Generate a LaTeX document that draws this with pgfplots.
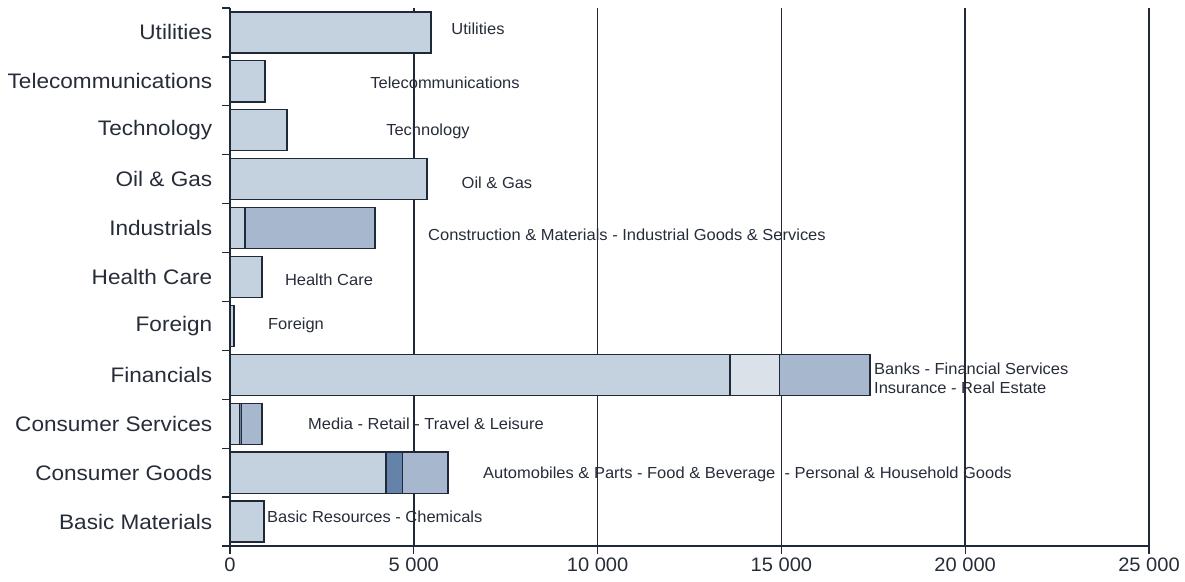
\documentclass[border=0pt]{standalone}
\usepackage{fontspec}
\setmainfont{Liberation Sans}
\usepackage{pgfplots}
\usepackage{pgfplotstable}
\pgfplotsset{compat=1.18}
\definecolor{cLight}{HTML}{C4D1DE}
\definecolor{cDark}{HTML}{6583A8}
\definecolor{cLighter}{HTML}{DAE1E9}
\definecolor{cMed}{HTML}{A7B8CE}
\definecolor{cEdge}{HTML}{1F2937}
\definecolor{cText}{HTML}{262C38}
\pgfplotstableread{
cat s1 s2 s3 s4 s5
0 920 10 0 0 0
1 4240 460 0 1230 0
2 250 60 0 560 0
3 13600 0 1340 2450 20
4 110 0 0 0 0
5 870 0 0 0 0
6 410 0 0 3535 0
7 5360 0 0 0 0
8 1550 0 0 0 0
9 950 0 0 0 0
10 5470 0 0 0 0
}\mydata
\tikzset{annot/.style={font=\fontsize{16}{19}\selectfont, text=cText, inner sep=0pt, xscale=1.03}}
\begin{document}
\begin{tikzpicture}
\useasboundingbox (-230pt,-35pt) rectangle (955pt,546pt);
\begin{axis}[
  at={(0,0)}, anchor=south west,
  scale only axis, width=919pt, height=538pt,
  xbar stacked, bar width=0.84,
  xmin=0, xmax=25000, ymin=-0.5, ymax=10.5,
  axis lines*=left, axis line style={-, cEdge, line width=1.2pt},
  xtick={0,5000,10000,15000,20000,25000},
  xticklabels={0,5 000,10 000,15 000,20 000,25 000},
  scaled x ticks=false,
  xmajorgrids, major grid style={cEdge, line width=1.5pt},
  x tick style={cEdge, line width=1.2pt}, tick align=outside, major tick length=8pt,
  xticklabel style={font=\fontsize{19.5}{22}\selectfont, text=cText, yshift=0pt, xscale=1.03},
  ytick={0,...,10},
  y tick style={draw=none},
  yticklabels={Basic Materials, Consumer Goods, Consumer Services, Financials, Foreign, Health Care, Industrials, Oil \& Gas, Technology, Telecommunications, Utilities},
  yticklabel style={font=\fontsize{21}{24}\selectfont, text=cText, xshift=-6pt, xscale=1.075},
  extra y ticks={-0.5,0.5,...,10.5},
  extra y tick labels={},
  extra y tick style={ymajorgrids=false, y tick style={draw=cEdge, line width=1.2pt}},
  clip=false,
]
\addplot[fill=cLight, draw=cEdge, line width=1.3pt] table[x=s1,y=cat]{\mydata};
\addplot[fill=cDark, draw=cEdge, line width=1.3pt] table[x=s2,y=cat]{\mydata};
\addplot[fill=cLighter, draw=cEdge, line width=1.3pt] table[x=s3,y=cat]{\mydata};
\addplot[fill=cMed, draw=cEdge, line width=1.3pt] table[x=s4,y=cat]{\mydata};
\addplot[fill=cDark, draw=cEdge, line width=1.3pt] table[x=s5,y=cat]{\mydata};
\node[annot] at (axis cs:6746,10.07) {Utilities};
\node[annot] at (axis cs:5849,8.97) {Telecommunications};
\node[annot] at (axis cs:5386,7.97) {Technology};
\node[annot] at (axis cs:7263,6.93) {Oil \& Gas};
\node[annot, anchor=west] at (axis cs:5386,5.87) {Construction \& Materials - Industrial Goods \& Services};
\node[annot] at (axis cs:2693,4.95) {Health Care};
\node[annot] at (axis cs:1795,4.01) {Foreign};
\node[annot, anchor=west] at (axis cs:17519,3.13) {Banks - Financial Services};
\node[annot, anchor=west] at (axis cs:17519,2.745) {Insurance - Real Estate};
\node[annot] at (axis cs:5332,1.99) {Media - Retail - Travel \& Leisure};
\node[annot, anchor=west] at (axis cs:6883,0.97) {Automobiles \& Parts - Food \& Beverage \ - Personal \& Household Goods};
\node[annot, anchor=west] at (axis cs:1006,0.09) {Basic Resources - Chemicals};
\end{axis}
\end{tikzpicture}
\end{document}
